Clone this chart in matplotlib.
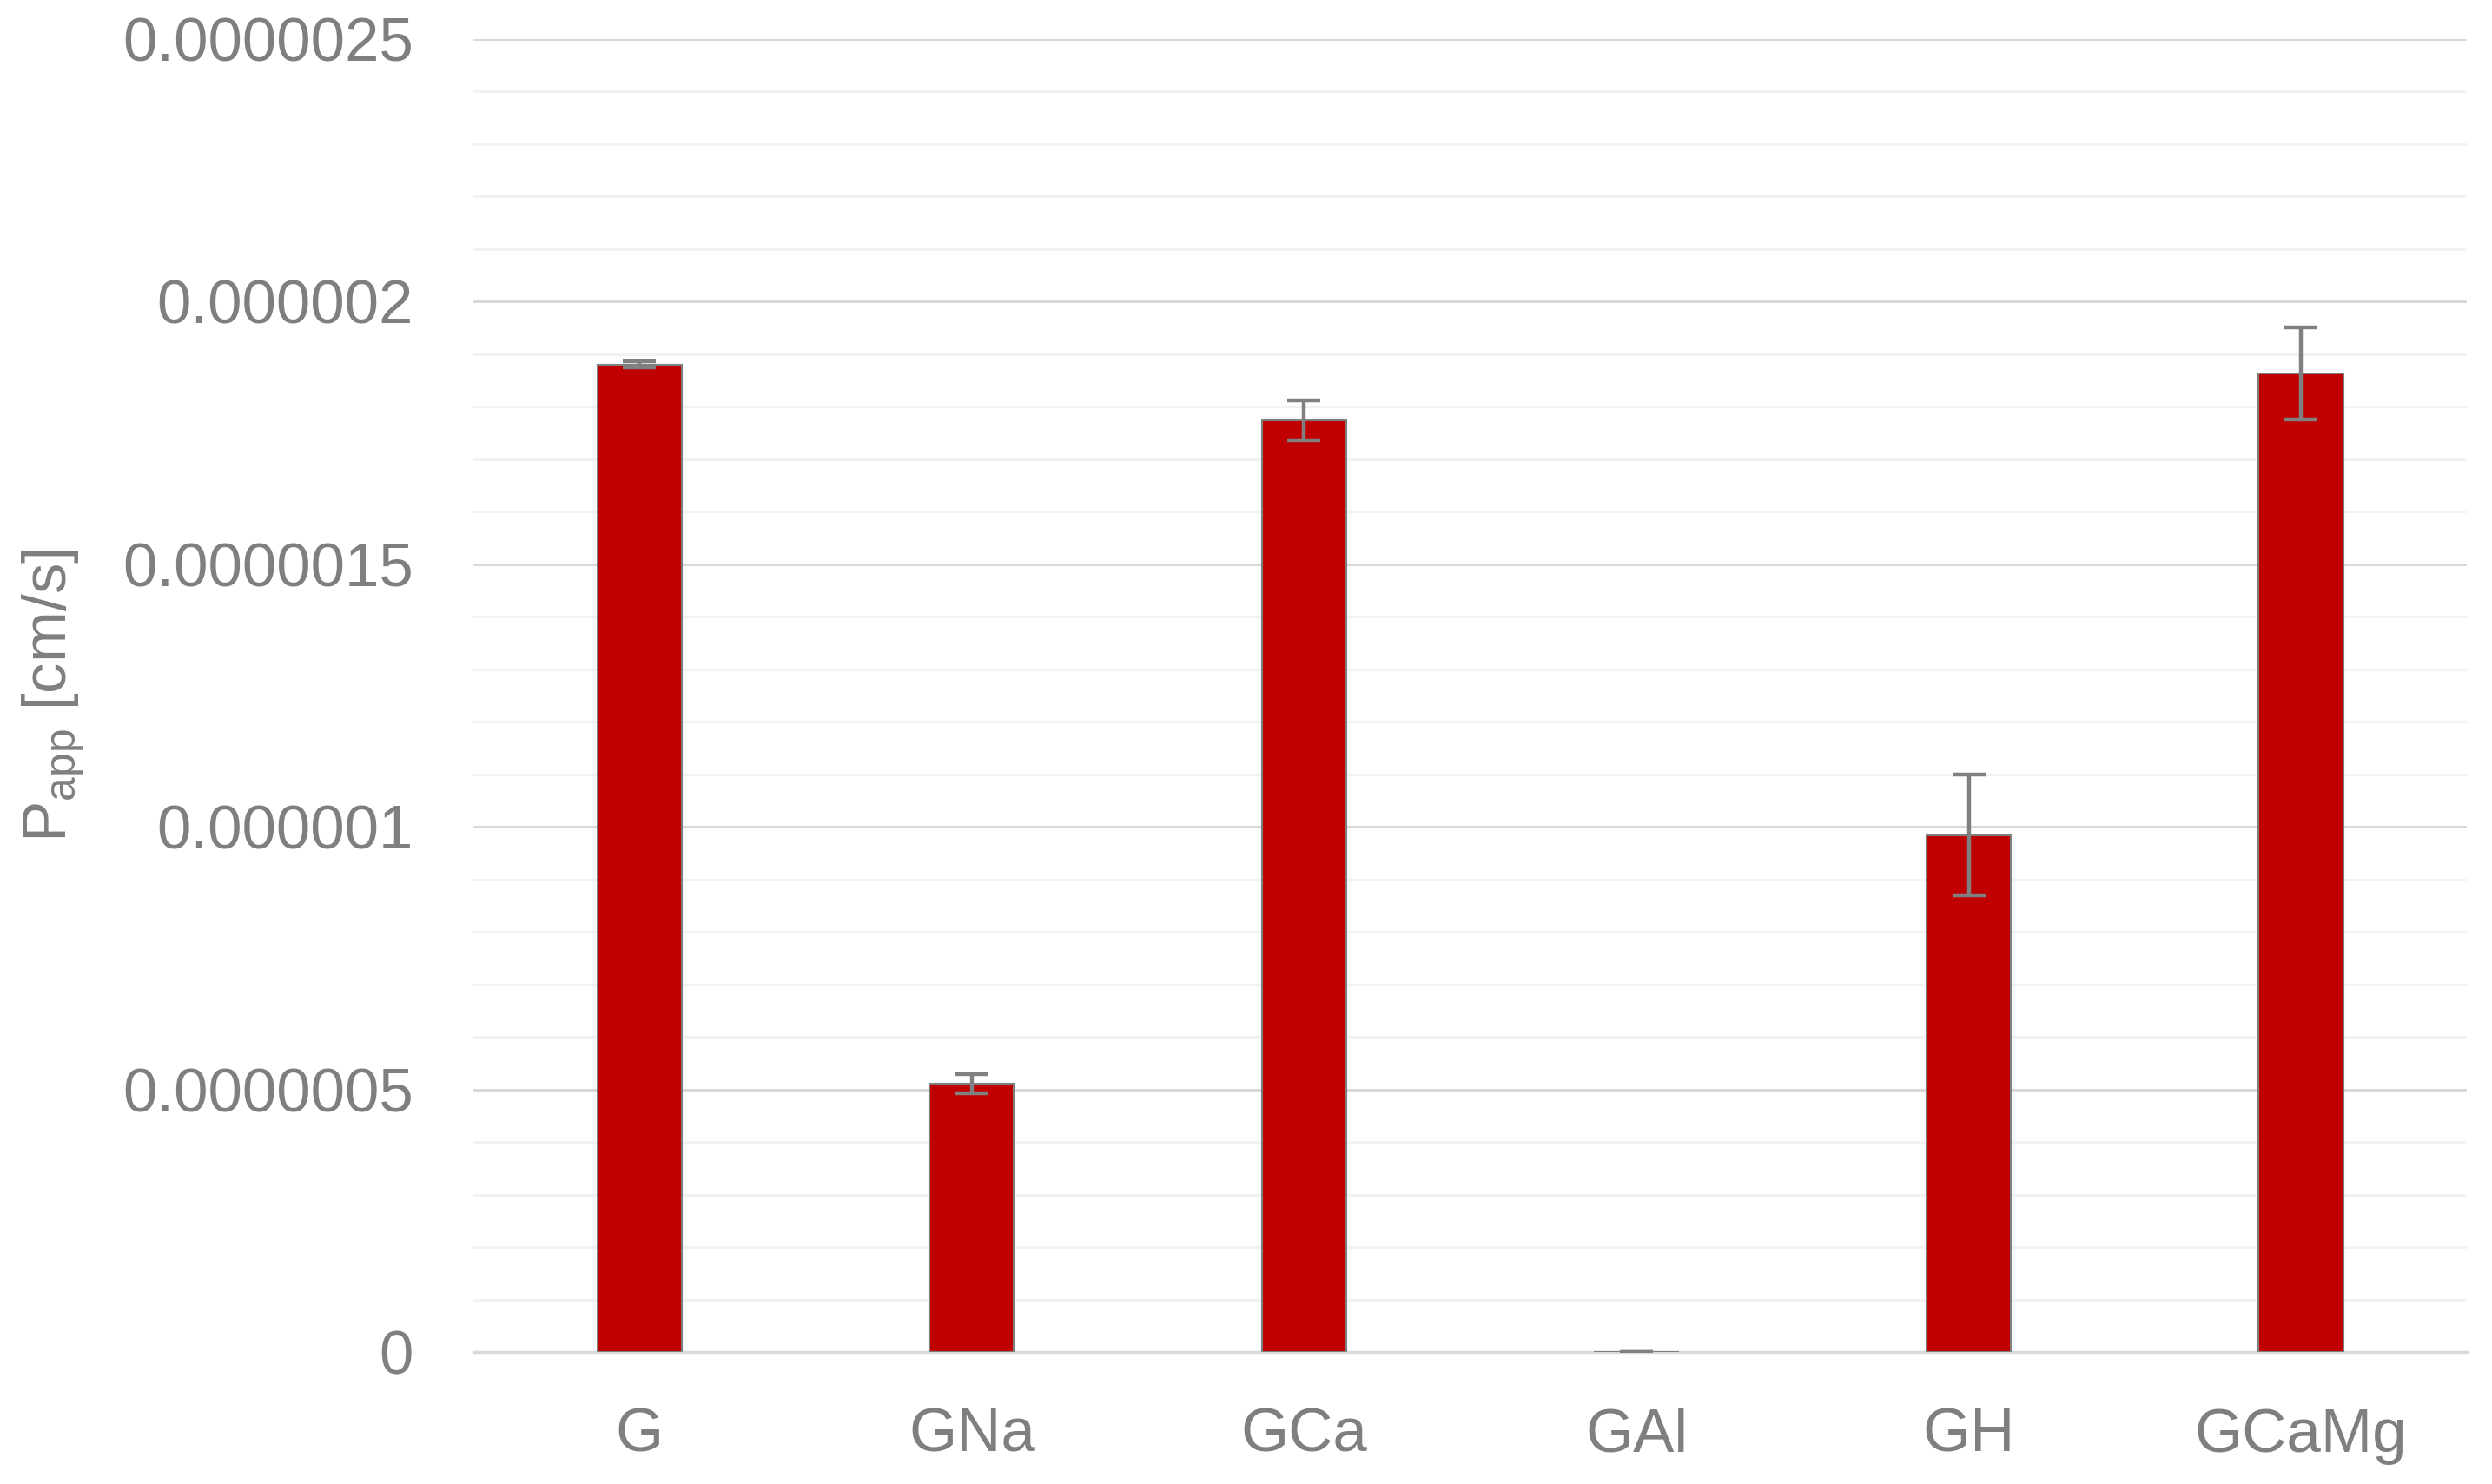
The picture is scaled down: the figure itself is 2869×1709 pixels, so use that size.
import matplotlib.pyplot as plt
from matplotlib.ticker import MultipleLocator, FuncFormatter

plt.rcParams['font.family'] = ['Liberation Sans', 'DejaVu Sans']
plt.rcParams['mathtext.default'] = 'regular'

# permeability per formulation
groups = ['G', 'GNa', 'GCa', 'GAl', 'GH', 'GCaMg']
papp = [1.880e-6, 0.511e-6, 1.774e-6, 0.0, 0.984e-6, 1.863e-6]
papp_err = [0.006e-6, 0.018e-6, 0.038e-6, 0.0, 0.115e-6, 0.088e-6]

text_grey = '#7f7f7f'

fig = plt.figure(figsize=(28.69, 17.09), dpi=100)
ax = fig.add_axes([0.190, 0.0889, 0.800, 0.885])

ax.bar(range(len(groups)), papp, width=0.254, color='#c00000',
       edgecolor='#7f7f7f', linewidth=1.5, zorder=3,
       yerr=papp_err, error_kw={'ecolor': '#808080', 'elinewidth': 3.2,
                                'capsize': 14, 'capthick': 3.2, 'zorder': 4})

ax.set_xlim(-0.5, len(groups) - 0.5)
ax.set_ylim(0, 2.5e-6)
ax.yaxis.set_major_locator(MultipleLocator(0.5e-6))
ax.yaxis.set_minor_locator(MultipleLocator(0.1e-6))
ax.yaxis.set_major_formatter(FuncFormatter(
    lambda v, p: ('%.7f' % v).rstrip('0').rstrip('.')))

ax.grid(axis='y', which='major', color='#d9d9d9', linewidth=2.2, zorder=0)
ax.grid(axis='y', which='minor', color='#f2f2f2', linewidth=2.2, zorder=0)
ax.set_axisbelow(True)

for s in ['top', 'right', 'left']:
    ax.spines[s].set_visible(False)
ax.spines['bottom'].set_color('#d9d9d9')
ax.spines['bottom'].set_linewidth(2.5)

ax.set_xticks(range(len(groups)))
ax.set_xticklabels(groups)
ax.tick_params(axis='both', which='both', length=0, labelsize=51,
               labelcolor=text_grey)
ax.tick_params(axis='y', pad=50)
ax.tick_params(axis='x', pad=46)

ax.set_ylabel('P$_{app}$ [cm/s]', fontsize=51, color=text_grey, labelpad=30)

fig.savefig('out.png', dpi=100)
